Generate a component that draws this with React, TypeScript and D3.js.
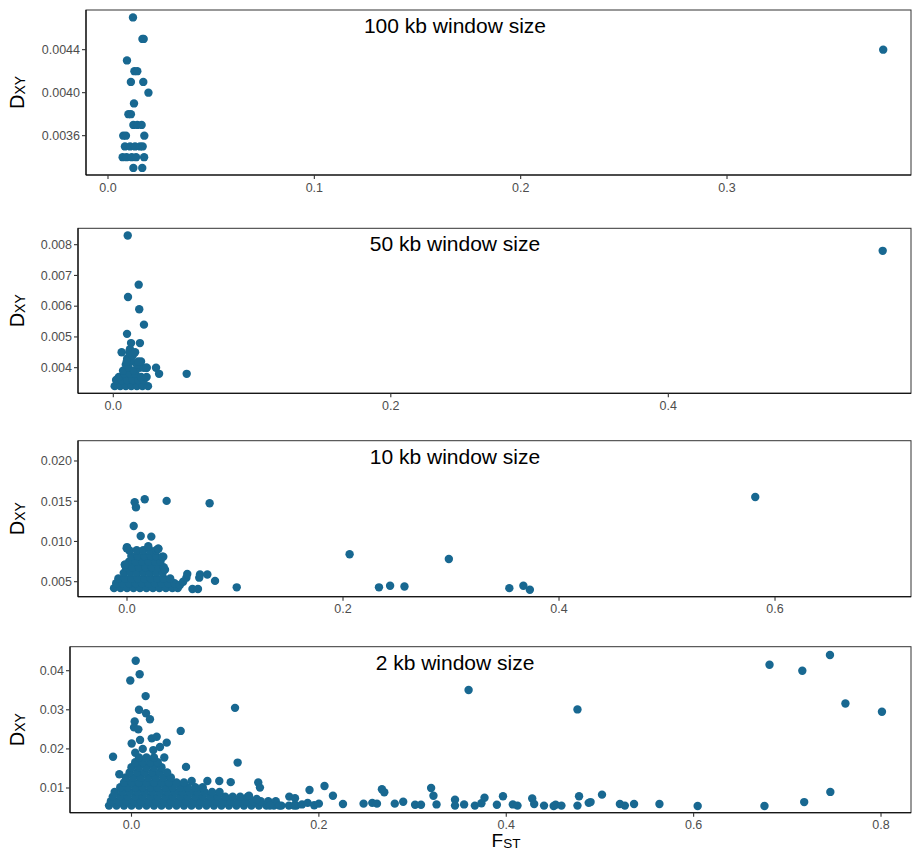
import React from "react";
import * as d3 from "d3";

// ---------- data: [FST, DXY] ----------
const pts100: [number, number][] = [
  [0.0121, 0.0047], [0.0167, 0.0045], [0.0173, 0.0045], [0.0092, 0.0043], [0.0128, 0.0042], [0.0142, 0.0042],
  [0.0111, 0.0041], [0.0171, 0.0041], [0.0196, 0.004], [0.0126, 0.0039], [0.0099, 0.0038], [0.0111, 0.0038],
  [0.0123, 0.0037], [0.0142, 0.0037], [0.0163, 0.0037], [0.0074, 0.0036], [0.0087, 0.0036], [0.0176, 0.0036],
  [0.0082, 0.0035], [0.0107, 0.0035], [0.0131, 0.0035], [0.0155, 0.0035], [0.0168, 0.0035], [0.0071, 0.0034],
  [0.009, 0.0034], [0.0115, 0.0034], [0.0136, 0.0034], [0.0175, 0.0034], [0.0123, 0.0033], [0.0166, 0.0033],
  [0.3757, 0.0044],
];

const pts50: [number, number][] = [
  [0.001, 0.0034], [0.005, 0.0034], [0.009, 0.0034], [0.013, 0.0034], [0.017, 0.0034], [0.021, 0.0034], [0.025, 0.0034],
  [0.002, 0.0036], [0.006, 0.0036], [0.01, 0.0036], [0.014, 0.0036], [0.018, 0.0036], [0.022, 0.0036],
  [0.004, 0.0037], [0.008, 0.0038], [0.012, 0.0038], [0.016, 0.0038], [0.02, 0.0037], [0.024, 0.0037],
  [0.007, 0.0039], [0.011, 0.004], [0.015, 0.0039], [0.019, 0.004], [0.022, 0.004], [0.024, 0.004],
  [0.009, 0.0041], [0.013, 0.0042], [0.017, 0.0041], [0.02, 0.0042], [0.01, 0.0043], [0.014, 0.0044], [0.012, 0.0046],
  [0.0104, 0.0083], [0.0183, 0.0067], [0.0106, 0.0063], [0.0187, 0.0059], [0.0221, 0.0054], [0.0099, 0.0051],
  [0.0128, 0.0048], [0.0192, 0.0048], [0.006, 0.0045], [0.0115, 0.0045], [0.0157, 0.0045], [0.0097, 0.0042],
  [0.018, 0.0042], [0.0308, 0.004], [0.033, 0.0038], [0.0529, 0.0038], [0.024, 0.004], [0.5545, 0.0078],
];

const pts10: [number, number][] = [
  [-0.012, 0.0042], [-0.006, 0.0042], [0.0, 0.0042], [0.006, 0.0042], [0.012, 0.0042], [0.018, 0.0042], [0.024, 0.0042], [0.03, 0.0042], [0.036, 0.0042], [0.042, 0.0042], [0.047, 0.0042],
  [-0.01, 0.0048], [-0.004, 0.0048], [0.002, 0.0048], [0.008, 0.0048], [0.014, 0.0048], [0.02, 0.0048], [0.026, 0.0048], [0.032, 0.0048], [0.038, 0.0048], [0.044, 0.0048],
  [-0.008, 0.0054], [-0.002, 0.0054], [0.004, 0.0054], [0.01, 0.0054], [0.016, 0.0054], [0.022, 0.0054], [0.028, 0.0054], [0.034, 0.0054], [0.04, 0.0054],
  [-0.003, 0.0061], [0.003, 0.0061], [0.009, 0.0061], [0.015, 0.0061], [0.021, 0.0061], [0.027, 0.0061], [0.033, 0.0061],
  [-0.001, 0.0068], [0.005, 0.0068], [0.011, 0.0068], [0.017, 0.0068], [0.023, 0.0068], [0.029, 0.0068], [0.034, 0.0068],
  [0.002, 0.0075], [0.008, 0.0075], [0.014, 0.0075], [0.02, 0.0075], [0.026, 0.0075], [0.031, 0.0075],
  [0.004, 0.0082], [0.01, 0.0082], [0.016, 0.0082], [0.022, 0.0082], [0.027, 0.0082],
  [0.002, 0.0089], [0.009, 0.0089], [0.015, 0.0089], [0.021, 0.0089], [0.027, 0.0089],
  [0.0, 0.0093], [0.0197, 0.0094], [0.029, 0.0091], [0.0336, 0.0081], [-0.002, 0.0071], [0.0352, 0.0065],
  [0.049, 0.0046], [0.052, 0.005], [0.055, 0.0055],
  [0.0071, 0.01488], [0.0083, 0.01425], [0.0164, 0.01525], [0.0367, 0.01504], [0.0765, 0.01475],
  [0.0062, 0.01193], [0.0127, 0.01068], [0.0225, 0.0106], [-0.0003, 0.00915], [0.029, 0.0091], [0.0327, 0.0081],
  [-0.0019, 0.0071], [0.0558, 0.00596], [0.0676, 0.0059], [0.0744, 0.0059], [0.0669, 0.0055], [0.0815, 0.0051],
  [0.0606, 0.0041], [0.0657, 0.0041], [0.1016, 0.0043],
  [0.2061, 0.00841], [0.2333, 0.0043], [0.2436, 0.0045], [0.2569, 0.0044], [0.298, 0.00782],
  [0.354, 0.0042], [0.367, 0.0045], [0.373, 0.004], [0.5817, 0.01553],
];

const pts2: [number, number][] = [
  [-0.024, 0.0055], [-0.016, 0.0055], [-0.008, 0.0055], [0.0, 0.0055], [0.008, 0.0055], [0.016, 0.0055], [0.024, 0.0055], [0.032, 0.0055], [0.04, 0.0055], [0.048, 0.0055], [0.056, 0.0055], [0.064, 0.0055], [0.072, 0.0055], [0.08, 0.0055], [0.088, 0.0055], [0.096, 0.0055], [0.104, 0.0055], [0.112, 0.0055], [0.12, 0.0055], [0.128, 0.0055], [0.136, 0.0055], [0.144, 0.0055], [0.152, 0.0055], [0.16, 0.0055], [0.168, 0.0055], [0.176, 0.0055],
  [-0.022, 0.0066], [-0.014, 0.0066], [-0.006, 0.0066], [0.002, 0.0066], [0.01, 0.0066], [0.018, 0.0066], [0.026, 0.0066], [0.034, 0.0066], [0.042, 0.0066], [0.05, 0.0066], [0.058, 0.0066], [0.066, 0.0066], [0.074, 0.0066], [0.082, 0.0066], [0.09, 0.0066], [0.098, 0.0066], [0.106, 0.0066], [0.114, 0.0066], [0.122, 0.0066], [0.13, 0.0066], [0.138, 0.0066], [0.146, 0.0066], [0.154, 0.0066],
  [-0.02, 0.0078], [-0.012, 0.0078], [-0.004, 0.0078], [0.004, 0.0078], [0.012, 0.0078], [0.02, 0.0078], [0.028, 0.0078], [0.036, 0.0078], [0.044, 0.0078], [0.052, 0.0078], [0.06, 0.0078], [0.068, 0.0078], [0.076, 0.0078], [0.084, 0.0078], [0.092, 0.0078], [0.1, 0.0078], [0.108, 0.0078], [0.116, 0.0078], [0.124, 0.0078],
  [-0.018, 0.009], [-0.01, 0.009], [-0.002, 0.009], [0.006, 0.009], [0.014, 0.009], [0.022, 0.009], [0.03, 0.009], [0.038, 0.009], [0.046, 0.009], [0.054, 0.009], [0.062, 0.009], [0.07, 0.009], [0.078, 0.009], [0.086, 0.009], [0.094, 0.009],
  [-0.012, 0.0102], [-0.004, 0.0102], [0.004, 0.0102], [0.012, 0.0102], [0.02, 0.0102], [0.028, 0.0102], [0.036, 0.0102], [0.044, 0.0102], [0.052, 0.0102], [0.06, 0.0102], [0.068, 0.0102], [0.076, 0.0102],
  [-0.008, 0.0114], [0.0, 0.0114], [0.008, 0.0114], [0.016, 0.0114], [0.024, 0.0114], [0.032, 0.0114], [0.04, 0.0114], [0.048, 0.0114], [0.056, 0.0114],
  [-0.006, 0.0127], [0.002, 0.0127], [0.01, 0.0127], [0.018, 0.0127], [0.026, 0.0127], [0.034, 0.0127], [0.042, 0.0127],
  [-0.002, 0.014], [0.006, 0.014], [0.014, 0.014], [0.022, 0.014], [0.03, 0.014], [0.038, 0.014],
  [0.0, 0.0153], [0.008, 0.0153], [0.016, 0.0153], [0.024, 0.0153], [0.032, 0.0153],
  [0.004, 0.0166], [0.012, 0.0166], [0.02, 0.0166], [0.028, 0.0166],
  [0.008, 0.0178], [0.016, 0.0178], [0.024, 0.0178],
  [0.0002, 0.0214], [0.0091, 0.0223], [0.0216, 0.0227], [0.0269, 0.0231], [0.0376, 0.0216], [0.0233, 0.0197],
  [0.0304, 0.0205], [0.035, 0.0178], [0.0582, 0.0154], [-0.013, 0.0135], [0.0642, 0.0118], [0.081, 0.0118],
  [0.0937, 0.0118], [0.1059, 0.0115], [0.1353, 0.0114], [0.1371, 0.0101], [0.1254, 0.008], [0.1336, 0.0072],
  [0.1478, 0.0055], [0.1578, 0.0055], [0.1684, 0.0078], [0.1745, 0.0074], [0.1734, 0.0055], [0.004, 0.019],
  [0.012, 0.02], [-0.0197, 0.018], [0.0045, 0.04256], [0.0087, 0.0391], [-0.0013, 0.0375], [0.0151, 0.0335],
  [0.008, 0.03], [0.0155, 0.0291], [0.0197, 0.0276], [0.0034, 0.027], [0.0027, 0.0255], [0.0073, 0.025],
  [0.1105, 0.0305], [0.0525, 0.0246], [0.1133, 0.0165],
  [0.182, 0.0058], [0.188, 0.0062], [0.195, 0.0056], [0.2, 0.006], [0.19, 0.0095], [0.206, 0.0105], [0.215, 0.008],
  [0.2257, 0.0059], [0.2477, 0.006], [0.257, 0.0062], [0.262, 0.006], [0.2673, 0.0097], [0.2698, 0.0089],
  [0.281, 0.006], [0.29, 0.0065], [0.3027, 0.0057], [0.309, 0.0057], [0.3198, 0.01], [0.3223, 0.008],
  [0.3256, 0.0058], [0.3453, 0.007], [0.3453, 0.0055], [0.355, 0.0058], [0.3665, 0.0055], [0.3735, 0.0061],
  [0.3768, 0.0075], [0.39, 0.0057], [0.3965, 0.0079], [0.407, 0.0058], [0.412, 0.0055], [0.4277, 0.0073],
  [0.4298, 0.0059], [0.4403, 0.0055], [0.4506, 0.0054], [0.4527, 0.0057], [0.4589, 0.0055], [0.476, 0.0055],
  [0.4777, 0.0079], [0.488, 0.0062], [0.49, 0.0064], [0.5022, 0.0083], [0.5213, 0.0059], [0.5266, 0.0055],
  [0.5364, 0.0059], [0.5635, 0.0059], [0.6043, 0.0054], [0.6756, 0.0054], [0.718, 0.0064], [0.7459, 0.009],
  [0.3598, 0.03506], [0.476, 0.0301], [0.681, 0.04153], [0.716, 0.04], [0.7455, 0.044], [0.762, 0.0316], [0.801, 0.0295],
];

const titles = ["100 kb window size", "50 kb window size", "10 kb window size", "2 kb window size"];
const xTicks100 = [0, 0.1, 0.2, 0.3];
const yTicks100 = [0.0036, 0.004, 0.0044];
const xTicks50 = [0, 0.2, 0.4];
const yTicks50 = [0.004, 0.005, 0.006, 0.007, 0.008];
const xTicks10 = [0, 0.2, 0.4, 0.6];
const yTicks10 = [0.005, 0.01, 0.015, 0.02];
const xTicks2 = [0, 0.2, 0.4, 0.6, 0.8];
const yTicks2 = [0.01, 0.02, 0.03, 0.04];

// ---------- layout ----------
const RIGHT = 911;
const COLOR = "#186891";
const FONT = "'Liberation Sans', Arial, sans-serif";

type Panel = {
  pts: [number, number][];
  title: string;
  xTicks: number[];
  yTicks: number[];
  xDec: number;
  yDec: number;
  left: number;
  top: number;
  bottom: number;
  xDom: [number, number];
  yDom: [number, number];
};

const panels: Panel[] = [
  { pts: pts100, title: titles[0], xTicks: xTicks100, yTicks: yTicks100, xDec: 1, yDec: 4, left: 86, top: 10, bottom: 175, xDom: [-0.01066, 0.38917], yDom: [0.003234, 0.004769] },
  { pts: pts50, title: titles[1], xTicks: xTicks50, yTicks: yTicks50, xDec: 1, yDec: 3, left: 78, top: 228.3, bottom: 393.3, xDom: [-0.02544, 0.5749], yDom: [0.003167, 0.008533] },
  { pts: pts10, title: titles[2], xTicks: xTicks10, yTicks: yTicks10, xDec: 1, yDec: 3, left: 78, top: 440.7, bottom: 596.7, xDom: [-0.04537, 0.7259], yDom: [0.003136, 0.02252] },
  { pts: pts2, title: titles[3], xTicks: xTicks2, yTicks: yTicks2, xDec: 1, yDec: 2, left: 70, top: 646.7, bottom: 812.7, xDom: [-0.06564, 0.832], yDom: [0.003683, 0.04614] },
];

function PanelView({ p }: { p: Panel }) {
  const x = d3.scaleLinear().domain(p.xDom).range([p.left, RIGHT]);
  const y = d3.scaleLinear().domain(p.yDom).range([p.bottom, p.top]);
  const cy = (p.top + p.bottom) / 2;
  return (
    <g>
      <rect x={p.left} y={p.top} width={RIGHT - p.left} height={p.bottom - p.top} fill="white" stroke="#333" strokeWidth={1} />
      {p.pts.map((d, i) => (
        <circle key={i} cx={x(d[0])} cy={y(d[1])} r={4.2} fill={COLOR} />
      ))}
      <line x1={p.left} x2={p.left} y1={p.top} y2={p.bottom} stroke="black" strokeWidth={1.1} />
      <line x1={p.left} x2={RIGHT} y1={p.bottom} y2={p.bottom} stroke="black" strokeWidth={1.1} />
      {p.xTicks.map((t) => (
        <g key={"x" + t}>
          <line x1={x(t)} x2={x(t)} y1={p.bottom} y2={p.bottom + 4} stroke="#333" strokeWidth={1.1} />
          <text x={x(t)} y={p.bottom + 16.5} textAnchor="middle" fontSize={12.5} fill="#4d4d4d" fontFamily={FONT}>
            {t.toFixed(p.xDec)}
          </text>
        </g>
      ))}
      {p.yTicks.map((t) => (
        <g key={"y" + t}>
          <line x1={p.left - 4} x2={p.left} y1={y(t)} y2={y(t)} stroke="#333" strokeWidth={1.1} />
          <text x={p.left - 6} y={y(t) + 4.3} textAnchor="end" fontSize={12.5} fill="#4d4d4d" fontFamily={FONT}>
            {t.toFixed(p.yDec)}
          </text>
        </g>
      ))}
      <text x={455} y={p.top + 23} textAnchor="middle" fontSize={21} fill="black" fontFamily={FONT}>
        {p.title}
      </text>
      <text transform={`translate(24,${cy}) rotate(-90)`} textAnchor="middle" fontFamily={FONT} fill="black">
        <tspan fontSize={20}>D</tspan>
        <tspan fontSize={14} dy={1}>XY</tspan>
      </text>
    </g>
  );
}

export default function App() {
  return (
    <svg width={912} height={850} style={{ position: "absolute", left: 0, top: 0, background: "white" }}>
      <rect x={0} y={0} width={912} height={850} fill="white" />
      {panels.map((p, i) => (
        <PanelView key={i} p={p} />
      ))}
      <text x={506} y={847} textAnchor="middle" fontFamily={FONT} fill="black">
        <tspan fontSize={19}>F</tspan>
        <tspan fontSize={13.5} dy={1}>ST</tspan>
      </text>
    </svg>
  );
}
